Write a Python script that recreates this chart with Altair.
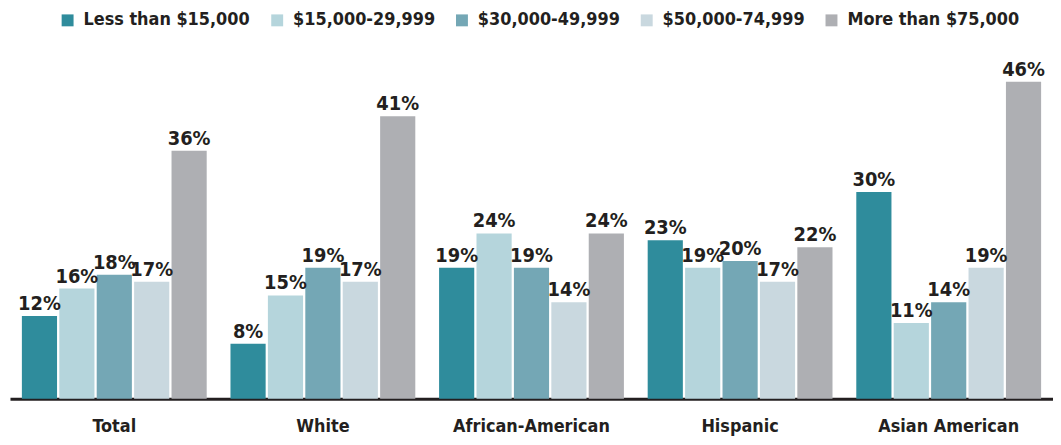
import altair as alt
import pandas as pd

groups = ["Total", "White", "African-American", "Hispanic", "Asian American"]
incomes = ["Less than $15,000", "$15,000-29,999", "$30,000-49,999", "$50,000-74,999", "More than $75,000"]
colors = ["#2f8c9c", "#b5d5dc", "#74a7b5", "#c9d8df", "#aeafb3"]

total = [12, 16, 18, 17, 36]
white = [8, 15, 19, 17, 41]
african_american = [19, 24, 19, 14, 24]
hispanic = [23, 19, 20, 17, 22]
asian_american = [30, 11, 14, 19, 46]

series = [total, white, african_american, hispanic, asian_american]
rows = []
for g, vals in zip(groups, series):
    for inc, v in zip(incomes, vals):
        rows.append({"group": g, "income": inc, "value": v, "label": f"{v}%"})
df = pd.DataFrame(rows)

FONT = "DejaVu Sans Condensed, sans-serif"

x = alt.X("group:N", sort=groups, title=None,
          scale=alt.Scale(paddingInner=0.114, paddingOuter=0.057),
          axis=alt.Axis(labelAngle=0, ticks=False, domain=True, domainColor="#231f20",
                        domainWidth=3, labelFont=FONT, labelFontSize=18, labelFontWeight="bold",
                        labelColor="#231f20", labelPadding=19, labelLimit=0))
xo = alt.XOffset("income:N", sort=incomes, scale=alt.Scale(paddingInner=0.06))
y = alt.Y("value:Q", scale=alt.Scale(domain=[0, 50]), axis=None)

bars = alt.Chart(df).mark_bar().encode(
    x=x, xOffset=xo, y=y,
    color=alt.Color("income:N", sort=incomes,
                    scale=alt.Scale(domain=incomes, range=colors),
                    legend=alt.Legend(title=None, orient="none", direction="horizontal",
                                      legendX=49, legendY=-43, symbolType="square",
                                      symbolSize=144, symbolStrokeWidth=0,
                                      labelFont=FONT, labelFontSize=18, labelFontWeight="bold",
                                      labelColor="#231f20", labelOffset=7, columnPadding=18,
                                      labelLimit=0)),
)

labels = alt.Chart(df).mark_text(baseline="bottom", dy=-2, font=FONT, fontSize=20,
                                 fontWeight="bold", color="#231f20").encode(
    x=x, xOffset=xo, y=y, text="label:N"
)

chart = (bars + labels).properties(
    width=1050, height=347,
    padding={"left": 2, "top": 45, "right": 0, "bottom": 40},
    autosize=alt.AutoSizeParams(type="none"),
).configure_view(stroke=None)

chart.save("out.html", embed_options={"renderer": "svg", "actions": False})
